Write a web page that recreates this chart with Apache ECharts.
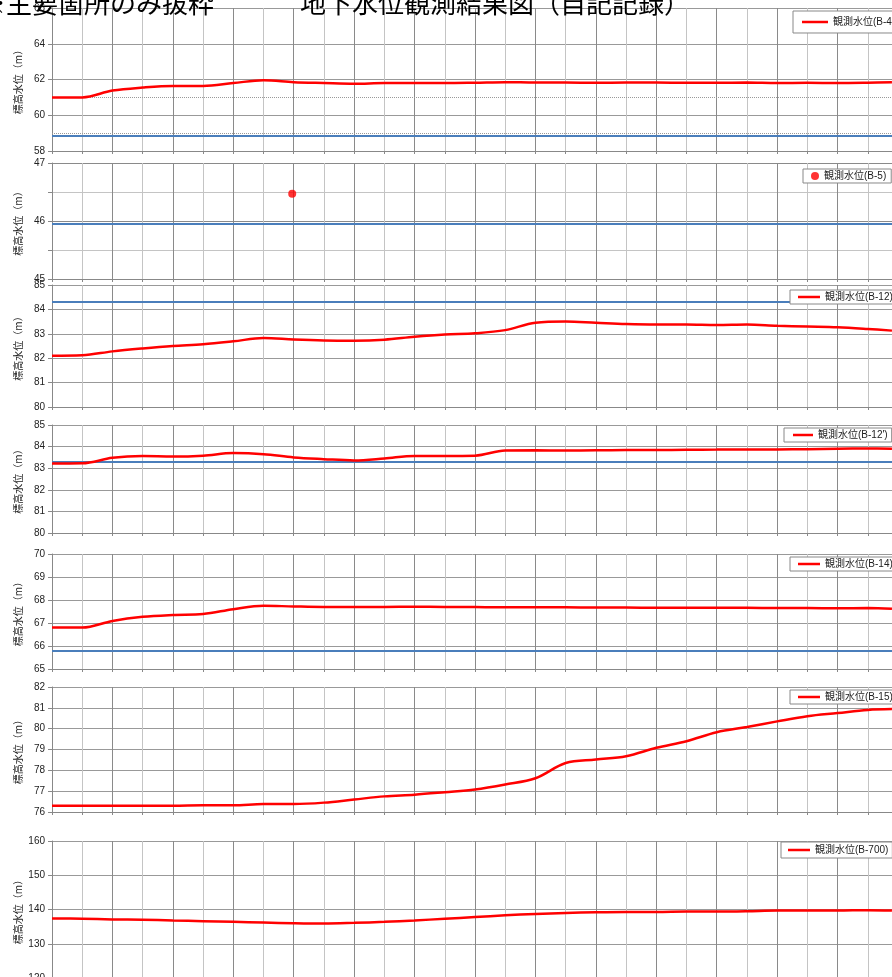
<!DOCTYPE html>
<html>
<head>
<meta charset="utf-8">
<script src="https://cdn.jsdelivr.net/npm/echarts@6/dist/echarts.min.js"></script>
<style>
  html, body { margin: 0; padding: 0; background: #fff; }
  #myChart { width: 892px; height: 977px; }
</style>
</head>
<body>
<div id="myChart"></div>
<script>
// 経過（目盛単位）
var xs = [0, 1, 2, 3, 4, 5, 6, 7, 8, 9, 10, 11, 12, 13, 14, 15, 16, 17, 18, 19, 20, 21, 22, 23, 24, 25, 26, 27, 27.8];

// 観測水位
var b4 = [61.0, 61.0, 61.38, 61.55, 61.64, 61.64, 61.8, 61.96, 61.85, 61.8, 61.76, 61.8, 61.8, 61.8, 61.82, 61.85, 61.83, 61.83, 61.82, 61.83, 61.83, 61.82, 61.82, 61.83, 61.8, 61.82, 61.8, 61.82, 61.85];
var b5 = [[7.95, 46.47]];
var b12 = [82.1, 82.12, 82.28, 82.4, 82.5, 82.57, 82.69, 82.83, 82.77, 82.73, 82.72, 82.76, 82.88, 82.97, 83.02, 83.15, 83.45, 83.5, 83.45, 83.4, 83.38, 83.38, 83.36, 83.38, 83.33, 83.3, 83.27, 83.2, 83.13];
var b12p = [83.22, 83.23, 83.48, 83.56, 83.54, 83.58, 83.7, 83.65, 83.5, 83.42, 83.36, 83.45, 83.57, 83.57, 83.58, 83.82, 83.83, 83.82, 83.83, 83.84, 83.84, 83.85, 83.86, 83.87, 83.87, 83.88, 83.9, 83.91, 83.9];
var b14 = [66.8, 66.8, 67.09, 67.27, 67.35, 67.39, 67.6, 67.75, 67.72, 67.7, 67.7, 67.7, 67.71, 67.7, 67.7, 67.68, 67.68, 67.68, 67.67, 67.67, 67.66, 67.66, 67.66, 67.66, 67.65, 67.65, 67.64, 67.65, 67.62];
var b15 = [76.3, 76.3, 76.3, 76.3, 76.3, 76.32, 76.32, 76.38, 76.38, 76.45, 76.6, 76.75, 76.83, 76.95, 77.08, 77.32, 77.62, 78.35, 78.52, 78.68, 79.08, 79.4, 79.83, 80.08, 80.35, 80.6, 80.75, 80.9, 80.94];
var b700 = [137.4, 137.3, 137.1, 137.0, 136.8, 136.6, 136.4, 136.2, 136.0, 135.9, 136.1, 136.4, 136.8, 137.3, 137.8, 138.3, 138.7, 139.0, 139.2, 139.3, 139.3, 139.4, 139.4, 139.5, 139.7, 139.7, 139.7, 139.8, 139.7];

var names = ['観測水位(B-4)', '観測水位(B-5)', '観測水位(B-12)', '観測水位(B-12\')', '観測水位(B-14)', '観測水位(B-15)', '観測水位(B-700)'];
var seriesData = [b4, b5, b12, b12p, b14, b15, b700];

// 青線（基準水位）、点線
var blueLevels = [58.85, 45.95, 84.3, 83.3, 65.8, null, null];
var dottedLevels = [[61, 59], [], [], [], [], [], []];

// 縦軸
var yMins = [58, 45, 80, 80, 65, 76, 120];
var yMaxs = [66, 47, 85, 85, 70, 82, 160];
var yIntervals = [2, 0.5, 1, 1, 1, 1, 10];

var FONT = '"Liberation Sans", "Noto Sans CJK JP", sans-serif';

// レイアウト
var grids = [
  { top: 8, height: 143 },
  { top: 163, height: 116 },
  { top: 285, height: 122 },
  { top: 425, height: 108 },
  { top: 554, height: 115 },
  { top: 687, height: 125 },
  { top: 841, height: 137 }
];
var legendPos = [
  { left: 793, top: 11, padding: [6, 8, 6, 9], itemWidth: 26 },
  { left: 803, top: 169, padding: [2, 5, 2, 8], itemWidth: 8 },
  { left: 790, top: 290, padding: [2, 6, 2, 8], itemWidth: 22 },
  { left: 784, top: 428, padding: [2, 4, 2, 9], itemWidth: 20 },
  { left: 790, top: 557, padding: [2, 6, 2, 8], itemWidth: 22 },
  { left: 790, top: 690, padding: [2, 6, 2, 8], itemWidth: 22 },
  { left: 781, top: 842, padding: [3, 4, 3, 7], itemWidth: 22 }
];

var option = {
  animation: false,
  backgroundColor: '#fff',
  grid: [], xAxis: [], yAxis: [], series: [], legend: [],
  graphic: [
    { type: 'text', x: -20, y: -10, z: 100,
      style: { text: '※主要箇所のみ抜粋', font: '26px "Noto Sans CJK JP"', fill: '#000' } },
    { type: 'text', x: 300, y: -10, z: 100,
      style: { text: '地下水位観測結果図（自記記録）', font: '26px "Noto Sans CJK JP"', fill: '#000' } }
  ]
};

for (var i = 0; i < 7; i++) {
  option.grid.push({
    left: 52, width: 846, top: grids[i].top, height: grids[i].height,
    outerBoundsMode: 'none', containLabel: false
  });

  option.xAxis.push({
    type: 'value', gridIndex: i, min: 0, max: 28, interval: 1,
    axisLabel: { show: false },
    axisLine: { lineStyle: { color: '#888', width: 1 } },
    axisTick: { show: true, length: 3, lineStyle: { color: '#888' } },
    splitLine: { show: true, lineStyle: { color: ['#8a8a8a', '#c4c4c4'], width: 1 } }
  });

  option.yAxis.push({
    type: 'value', gridIndex: i, min: yMins[i], max: yMaxs[i], interval: yIntervals[i],
    name: '標高水位（m）', nameLocation: 'middle', nameGap: 29, nameMoveOverlap: false,
    nameTextStyle: { fontSize: 10, color: '#222', fontFamily: '"Noto Sans CJK JP", sans-serif' },
    axisLine: { show: true, lineStyle: { color: '#888', width: 1 } },
    axisTick: { show: true, length: 4, lineStyle: { color: '#888' } },
    axisLabel: {
      fontSize: 10, color: '#222', fontFamily: FONT, margin: 7,
      formatter: function (v) { return Math.abs(v - Math.round(v)) < 1e-6 ? String(Math.round(v)) : ''; }
    },
    splitLine: { show: true, lineStyle: { color: i === 1 ? ['#8a8a8a', '#c4c4c4'] : '#999', width: 1 } }
  });

  var marks = [];
  if (blueLevels[i] !== null) {
    marks.push({ yAxis: blueLevels[i], lineStyle: { color: '#4a7ebb', width: 1.8, type: 'solid' } });
  }
  dottedLevels[i].forEach(function (v) {
    marks.push({ yAxis: v, lineStyle: { color: '#999', width: 1, type: 'dotted' } });
  });

  var s;
  if (i === 1) {
    s = {
      name: names[i], type: 'scatter', xAxisIndex: i, yAxisIndex: i,
      data: seriesData[i], symbol: 'circle', symbolSize: 8,
      itemStyle: { color: '#ff0000' }
    };
  } else {
    var pts = seriesData[i].map(function (v, k) { return [xs[k], v]; });
    s = {
      name: names[i], type: 'line', xAxisIndex: i, yAxisIndex: i,
      data: pts, symbol: 'none', smooth: 0.35,
      lineStyle: { color: '#ff0000', width: 2.5 },
      itemStyle: { color: '#ff0000' }
    };
  }
  s.markLine = { silent: true, symbol: 'none', label: { show: false }, data: marks, z: 1 };
  option.series.push(s);

  option.legend.push({
    data: [names[i]],
    icon: i === 1 ? 'circle' : 'rect',
    left: legendPos[i].left, top: legendPos[i].top, padding: legendPos[i].padding,
    itemWidth: legendPos[i].itemWidth, itemHeight: i === 1 ? 8 : 2.5,
    backgroundColor: '#fff', borderColor: '#888', borderWidth: 1, borderRadius: 0,
    textStyle: { fontSize: 10, color: '#222', fontFamily: FONT },
    selectedMode: false
  });
}

var myChart = echarts.init(document.getElementById('myChart'));
myChart.setOption(option);
</script>
</body>
</html>
